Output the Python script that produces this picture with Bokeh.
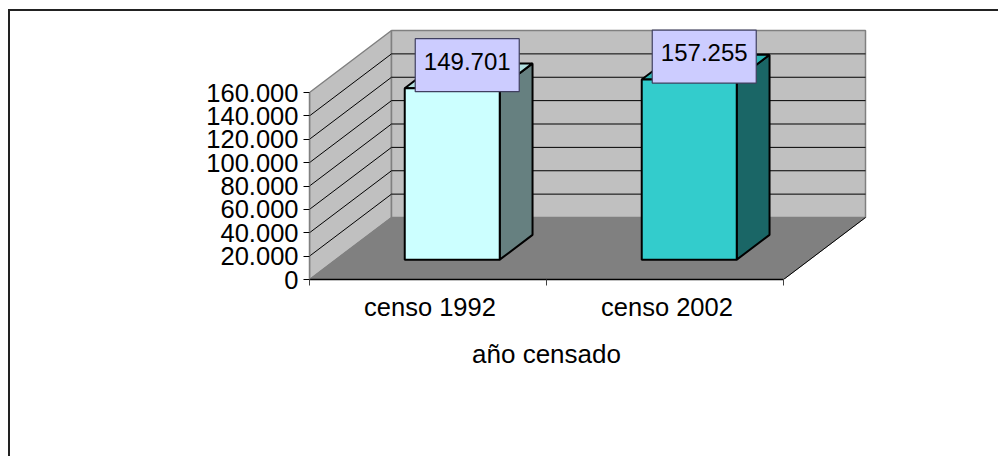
from bokeh.plotting import figure
from bokeh.models import LinearAxis, FixedTicker, Range1d
from bokeh.embed import file_html
from bokeh.resources import INLINE

categories = ["censo 1992", "censo 2002"]
values = [149701, 157255]
value_labels = ["149.701", "157.255"]
y_ticks = [0, 20000, 40000, 60000, 80000, 100000, 120000, 140000, 160000]
y_tick_labels = ["0", "20.000", "40.000", "60.000", "80.000", "100.000", "120.000", "140.000", "160.000"]
x_title = "año censado"
front_colors = ["#CCFFFF", "#33CCCC"]
side_colors = ["#668080", "#1A6666"]
top_colors = ["#B3E0E0", "#2DB3B3"]

# geometry of the pseudo 3D box, in data units
Y_MAX = 160000
PX_X = 474 / 2        # pixels per category
PX_Y = 187 / Y_MAX    # pixels per value unit
DX = 82 / PX_X        # depth offset along x
DY = 62 / PX_Y        # depth offset along y
BAR_W = 95 / PX_X
BAR_SHIFT = -2 / PX_X
LABEL_SHIFT = 2 / PX_X
BAR_FRONT, BAR_BACK = 0.32, 0.72
BAR_SCALE = 0.98

W, H = 990, 447
F_L, F_R, F_T, F_B = 299, 864, 9, 268   # frame edges within the figure

x_end = (F_R - F_L) / PX_X
y_end = (F_B - F_T) / PX_Y

p = figure(width=W, height=H, output_backend="svg", toolbar_location=None,
           x_range=Range1d(0, x_end), y_range=Range1d(0, y_end),
           x_axis_type=None, y_axis_type=None,
           min_border_left=F_L, min_border_right=W - F_R,
           min_border_top=F_T, min_border_bottom=H - F_B,
           margin=(9, 0, 0, 8))
p.styles = {"border-top": "2px solid #222222", "border-left": "2px solid #222222"}
p.outline_line_color = None
p.grid.visible = False
p.background_fill_color = "#FFFFFF"

GREY = "#808080"
WALL = "#C0C0C0"
n = len(categories)
xw = float(n)

# walls and floor
p.patch([0, DX, DX, 0], [0, DY, DY + Y_MAX, Y_MAX], fill_color=WALL, line_color=GREY, line_width=1.5)
p.patch([DX, DX + xw, DX + xw, DX], [DY, DY, DY + Y_MAX, DY + Y_MAX], fill_color=WALL, line_color=GREY, line_width=1.5)
p.patch([0, xw, xw + DX, DX], [0, 0, DY, DY], fill_color=GREY, line_color=GREY, line_width=1)
p.line([xw, xw + DX], [0, DY], line_color="#000000", line_width=1)

# gridlines on side and back wall
inner = y_ticks[1:-1]
p.multi_line([[0, DX, DX + xw] for _ in inner],
             [[t, t + DY, t + DY] for t in inner],
             line_color="#000000", line_width=1)

# bars
for i, v in enumerate(values):
    x0 = i + 0.5 - BAR_W / 2 + BAR_SHIFT
    x1 = i + 0.5 + BAR_W / 2 + BAR_SHIFT
    h = v * BAR_SCALE
    ox0, oy0 = DX * BAR_FRONT, DY * BAR_FRONT
    ox1, oy1 = DX * BAR_BACK, DY * BAR_BACK
    p.patch([x1 + ox0, x1 + ox1, x1 + ox1, x1 + ox0],
            [oy0, oy1, oy1 + h, oy0 + h],
            fill_color=side_colors[i], line_color="#000000", line_width=2)
    p.patch([x0 + ox0, x1 + ox0, x1 + ox1, x0 + ox1],
            [oy0 + h, oy0 + h, oy1 + h, oy1 + h],
            fill_color=top_colors[i], line_color="#000000", line_width=2)
    p.patch([x0 + ox0, x1 + ox0, x1 + ox0, x0 + ox0],
            [oy0, oy0, oy0 + h, oy0 + h],
            fill_color=front_colors[i], line_color="#000000", line_width=2)
    cx = (x0 + x1) / 2 + ox0 + 15 / PX_X
    cy = oy0 + h + 23 / PX_Y
    p.rect([cx], [cy], width=104, height=53, width_units="screen", height_units="screen",
           fill_color="#CCCCFF", line_color="#404060", line_width=1.2)
    p.text([cx], [cy], text=[value_labels[i]], text_align="center", text_baseline="middle",
           y_offset=-4, text_color="#000000", text_font_size="24px", text_font={"value": "Liberation Sans"})

# value axis
ya = LinearAxis(ticker=FixedTicker(ticks=y_ticks), bounds=(0, Y_MAX),
                major_label_overrides={t: l for t, l in zip(y_ticks, y_tick_labels)})
ya.axis_line_color = GREY
ya.axis_line_width = 1.5
ya.major_tick_line_color = "#000000"
ya.major_tick_out = 6
ya.major_tick_in = 0
ya.minor_tick_line_color = None
ya.major_label_standoff = 5
ya.major_label_text_font = "Liberation Sans"
ya.major_label_text_font_size = "25.5px"
ya.major_label_text_color = "#000000"
p.add_layout(ya, "left")

# category axis, tick marks between the categories
centers = [i + 0.5 + LABEL_SHIFT for i in range(n)]
xa = LinearAxis(ticker=FixedTicker(ticks=centers, minor_ticks=list(range(n + 1))), bounds=(0, xw),
                major_label_overrides={c: l for c, l in zip(centers, categories)})
xa.axis_line_color = "#000000"
xa.axis_line_width = 1.5
xa.major_tick_line_color = None
xa.minor_tick_line_color = "#404040"
xa.minor_tick_out = 6
xa.minor_tick_in = 0
xa.major_label_standoff = 7
xa.major_label_text_font = "Liberation Sans"
xa.major_label_text_font_size = "25.5px"
xa.major_label_text_color = "#000000"
p.add_layout(xa, "below")

# axis title, centred under the category span: a second axis below the first
ta = LinearAxis(ticker=FixedTicker(ticks=[xw / 2]), major_label_overrides={xw / 2: x_title})
ta.axis_line_color = None
ta.major_tick_line_color = None
ta.minor_tick_line_color = None
ta.major_tick_out = 0
ta.major_label_standoff = 15
ta.major_label_text_font = "Liberation Sans"
ta.major_label_text_font_size = "26px"
ta.major_label_text_color = "#000000"
p.add_layout(ta, "below")

open("out.html", "w").write(file_html(p, INLINE))
